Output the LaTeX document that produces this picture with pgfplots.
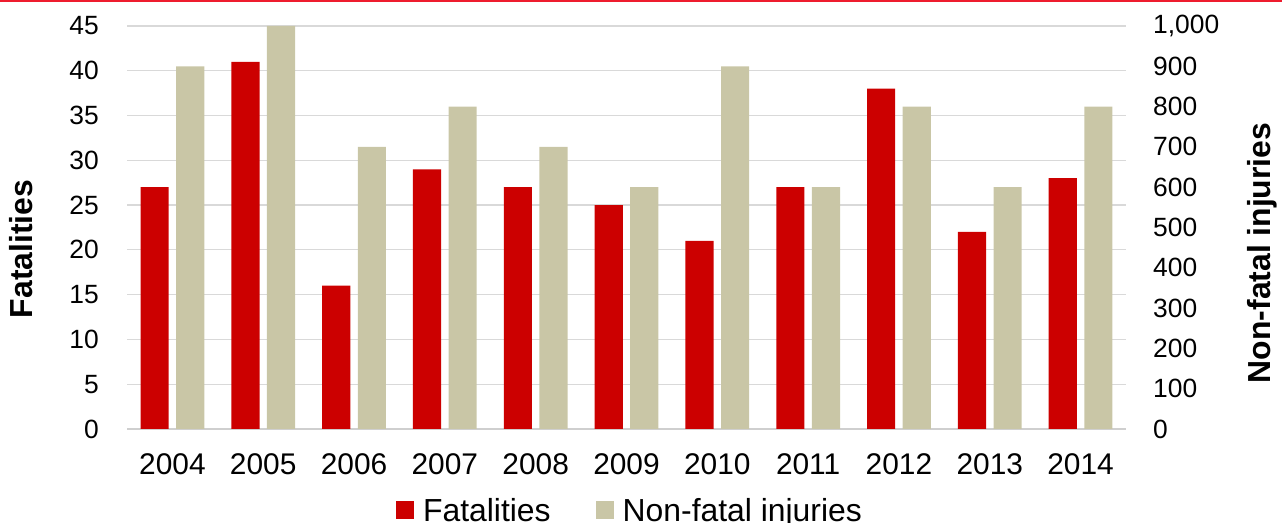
\documentclass[border=0pt]{standalone}
\usepackage{fontspec}
\setmainfont{Liberation Sans}
\usepackage{pgfplots}
\pgfplotsset{compat=1.18}
\definecolor{fatred}{HTML}{CC0000}
\definecolor{injtan}{HTML}{C9C6A6}
\definecolor{topred}{HTML}{EE1C2E}
\definecolor{gridgray}{HTML}{D9D9D9}
\definecolor{basegray}{HTML}{CFCFCF}
\begin{document}
\begin{tikzpicture}[x=1bp,y=1bp]
\path[use as bounding box] (0,0) rectangle (1282,523);
\fill[topred] (0,520.5) rectangle (1282,523);
\begin{axis}[
  at={(127bp,94bp)}, anchor=south west,
  scale only axis, width=999bp, height=403bp,
  xmin=-0.5, xmax=10.5, ymin=0, ymax=45,
  axis x line*=bottom, axis y line*=left,
  y axis line style={draw=none},
  x axis line style={draw=basegray, line width=1.5bp, -},
  ymajorgrids, major grid style={draw=gridgray, line width=1.2bp},
  ytick={0,5,...,45},
  xtick={0,...,10},
  xticklabels={2004,2005,2006,2007,2008,2009,2010,2011,2012,2013,2014},
  major tick length=0pt, tick align=inside,
  /pgf/number format/assume math mode=true,
  yticklabel style={font=\fontsize{26.5}{30}\selectfont, inner sep=0pt, anchor=east, xshift=-28bp},
  xticklabel style={font=\fontsize{30}{34}\selectfont, inner sep=0pt, anchor=north, yshift=-24bp},
  ybar, bar width=0.31,
]
\addplot[fill=fatred, draw=none, bar shift=-0.196] coordinates {
(0,27) (1,41) (2,16) (3,29) (4,27) (5,25) (6,21) (7,27) (8,38) (9,22) (10,28)};
\end{axis}
\begin{axis}[
  at={(127bp,94bp)}, anchor=south west,
  scale only axis, width=999bp, height=403bp,
  xmin=-0.5, xmax=10.5, ymin=0, ymax=1000,
  axis x line=none, axis y line*=right,
  y axis line style={draw=none},
  ytick={0,100,...,1000},
  xtick=\empty,
  major tick length=0pt, tick align=inside,
  /pgf/number format/assume math mode=true,
  /pgf/number format/1000 sep={,},
  yticklabel style={font=\fontsize{26.5}{30}\selectfont, inner sep=0pt, anchor=west, xshift=27bp},
  ybar, bar width=0.31,
  legend columns=2,
  legend style={at={(0.5025,-0.200)}, anchor=center, draw=none, fill=none,
    inner sep=0pt, font=\fontsize{32}{36}\selectfont,
    nodes={inner sep=0pt, text depth=0pt},
    /tikz/every odd column/.append style={column sep=9bp},
    /tikz/every even column/.append style={column sep=45bp}},
  legend image code/.code={\fill[#1,draw=none] (0bp,-9bp) rectangle (18bp,9bp);},
]
\addlegendimage{fill=fatred, draw=none}
\addlegendentry{Fatalities}
\addplot[fill=injtan, draw=none, bar shift=0.196] coordinates {
(0,900) (1,1000) (2,700) (3,800) (4,700) (5,600) (6,900) (7,600) (8,800) (9,600) (10,800)};
\addlegendentry{Non-fatal injuries}
\end{axis}
\node[rotate=90, font=\bfseries\fontsize{32}{36}\selectfont] at (21.5,274) {Fatalities};
\node[rotate=90, font=\bfseries\fontsize{32}{36}\selectfont] at (1262.5,270) {Non-fatal injuries};
\end{tikzpicture}
\end{document}
